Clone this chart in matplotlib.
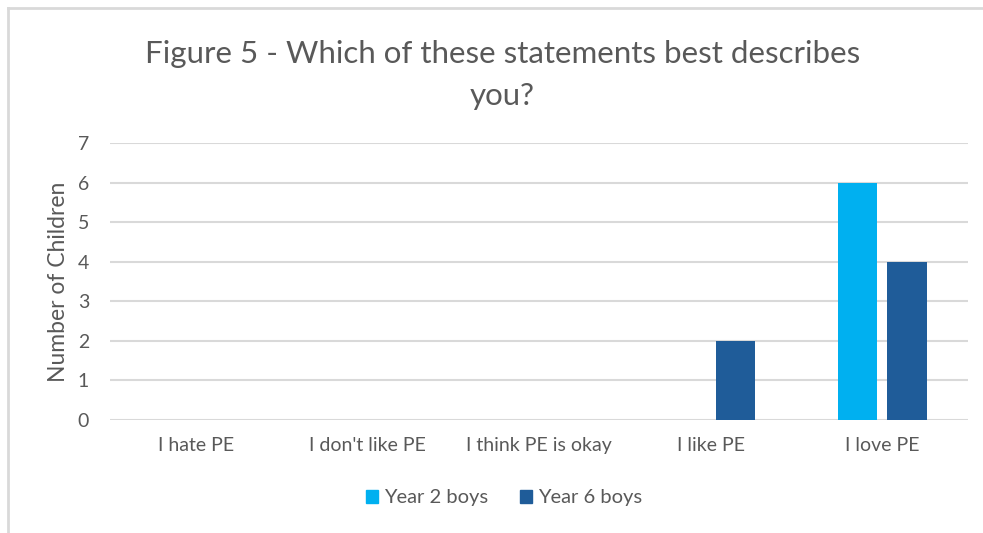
import numpy as np
import matplotlib.pyplot as plt
from matplotlib.patches import Patch
from matplotlib.lines import Line2D

# chart data
categories = ["I hate PE", "I don't like PE", "I think PE is okay", "I like PE", "I love PE"]
year2_boys = [0, 0, 0, 0, 6]
year6_boys = [0, 0, 0, 2, 4]
series_names = ["Year 2 boys", "Year 6 boys"]

plt.rcParams['font.family'] = ['Lato', 'DejaVu Sans']
text_col = '#595959'

fig = plt.figure(figsize=(9.83, 5.33), dpi=100)
ax = fig.add_axes([0.1119, 0.212, 0.8728, 0.5197])

x = np.arange(len(categories))
w = 0.23
off = 0.145
ax.bar(x - off, year2_boys, w, color='#00B0F0', label=series_names[0], zorder=3)
ax.bar(x + off, year6_boys, w, color='#1F5C99', label=series_names[1], zorder=3)

ax.set_xlim(-0.5, len(categories) - 0.5)
ax.set_ylim(0, 7)
ax.set_yticks(range(0, 8))
ax.set_xticks(x)
ax.set_xticklabels(categories)
ax.tick_params(axis='both', length=0, labelsize=14, colors=text_col)
ax.tick_params(axis='y', pad=15)
ax.tick_params(axis='x', pad=12)
ax.grid(axis='y', color='#D9D9D9', linewidth=1.5, zorder=0)
ax.set_axisbelow(True)
for s in ax.spines.values():
    s.set_visible(False)

ax.set_ylabel("Number of Children", fontsize=16.5, color=text_col, labelpad=6)

fig.text(0.511, 0.86, "Figure 5 - Which of these statements best describes\nyou?",
         ha='center', va='center', fontsize=22.5, color=text_col, linespacing=1.6)

handles = [Patch(color='#00B0F0'), Patch(color='#1F5C99')]
fig.legend(handles, series_names, loc='center', bbox_to_anchor=(0.513, 0.066), ncol=2,
           frameon=False, fontsize=14.5, labelcolor=text_col, handlelength=0.6, handleheight=0.6,
           handletextpad=0.3, columnspacing=1.6)

# chart border lines (top and left)
fig.add_artist(Line2D([0.008, 1.0], [0.985, 0.985], color='#D9D9D9', linewidth=2, transform=fig.transFigure))
fig.add_artist(Line2D([0.008, 0.008], [0.0, 0.985], color='#D9D9D9', linewidth=2, transform=fig.transFigure))

fig.savefig("out.png", dpi=100)
